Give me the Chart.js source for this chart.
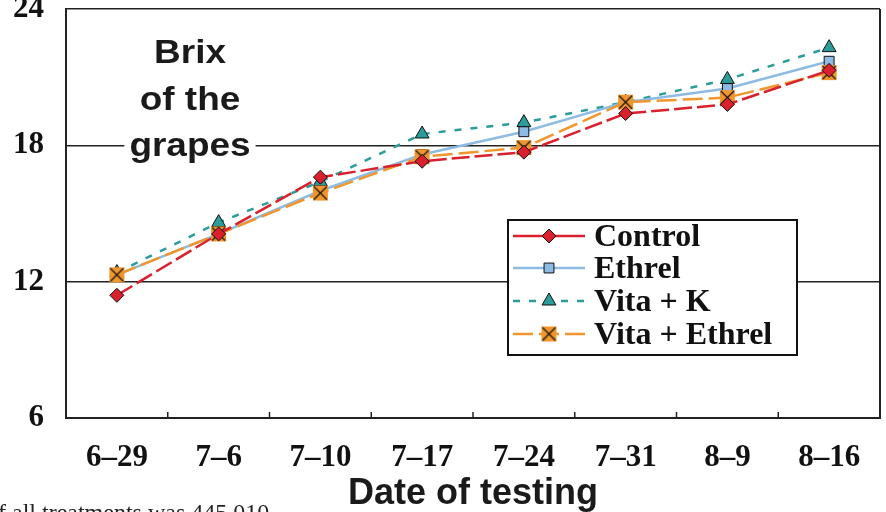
<!DOCTYPE html>
<html><head><meta charset="utf-8">
<script src="https://cdn.jsdelivr.net/npm/chart.js@4.4.1/dist/chart.umd.min.js"></script>
<style>html,body{margin:0;padding:0;background:#fff;overflow:hidden}canvas{display:block}</style>
</head><body>
<canvas id="c" width="886" height="512"></canvas>
<script>
const categories = ['6\u201329','7\u20136','7\u201310','7\u201317','7\u201324','7\u201331','8\u20139','8\u201316'];
const controlValues = [11.4, 14.1, 16.6, 17.3, 17.7, 19.4, 19.8, 21.3];
const ethrelValues = [12.3, 14.1, 16.0, 17.6, 18.6, 19.9, 20.5, 21.7];
const vitaKValues = [12.4, 14.6, 16.4, 18.5, 19.0, 19.9, 20.9, 22.3];
const vitaEthrelValues = [12.3, 14.1, 15.9, 17.5, 17.9, 19.9, 20.1, 21.2];
const yTicks = [6, 12, 18, 24];
const seriesNames = ['Control', 'Ethrel', 'Vita + K', 'Vita + Ethrel'];
const titleLines = ['Brix', 'of the', 'grapes'];
const xTitle = 'Date of testing';
const footText = 'f all treatments was 445,010';

function xMarker(){
  const s = 17, cv = document.createElement('canvas');
  cv.width = s; cv.height = s;
  const g = cv.getContext('2d');
  g.fillStyle = '#f0962c'; g.fillRect(1,1,s-2,s-2);
  g.strokeStyle = '#111'; g.lineWidth = 1.2;
  g.beginPath(); g.moveTo(2,2); g.lineTo(s-2,s-2); g.moveTo(s-2,2); g.lineTo(2,s-2); g.stroke();
  return cv;
}
const xm = xMarker();

const colors = ['#d9202c', '#8ebbe3', '#2c9c9a', '#f0962c'];
const dashes = [[18,5], [], [7,9], [20,6]];
const styles = ['rectRot', 'rect', 'triangle', xm];
const radii = [7, 7, 8, 8];
const valueSets = [controlValues, ethrelValues, vitaKValues, vitaEthrelValues];
const orders = [0, 2, 3, 1];

const datasets = seriesNames.map((n, i) => ({
  label: n,
  data: valueSets[i],
  borderColor: colors[i],
  backgroundColor: colors[i],
  borderWidth: 2.5,
  borderDash: dashes[i],
  pointStyle: styles[i],
  pointRadius: radii[i],
  pointBackgroundColor: colors[i],
  pointBorderColor: '#111',
  pointBorderWidth: 1,
  tension: 0,
  order: orders[i]
}));

const deco = {
  id: 'deco',
  afterDatasetsDraw(chart){
    const ctx = chart.ctx, a = chart.chartArea, xs = chart.scales.x;
    ctx.save();
    ctx.strokeStyle = '#222'; ctx.lineWidth = 2;
    ctx.beginPath(); ctx.moveTo(a.right, a.top); ctx.lineTo(a.right, a.bottom); ctx.stroke();
    ctx.lineWidth = 1.5;
    for (let i = 1; i < categories.length; i++){
      const x = (xs.getPixelForValue(i-1) + xs.getPixelForValue(i)) / 2;
      ctx.beginPath(); ctx.moveTo(x, a.bottom); ctx.lineTo(x, a.bottom - 6); ctx.stroke();
    }
    ctx.font = 'bold 33px "Liberation Sans", Arial, sans-serif';
    ctx.textAlign = 'center'; ctx.textBaseline = 'alphabetic';
    const bases = [63, 110, 156];
    const sx = 1.12;
    titleLines.forEach((t, i) => {
      const w = ctx.measureText(t).width * sx;
      ctx.fillStyle = '#fff';
      ctx.fillRect(190 - w/2 - 5, bases[i] - 26, w + 10, 34);
      ctx.save();
      ctx.translate(190, bases[i]); ctx.scale(sx, 1);
      ctx.fillStyle = '#1a1a1a';
      ctx.fillText(t, 0, 0);
      ctx.restore();
    });
    const lx = 508, ly = 220, lw = 289, lh = 135;
    ctx.fillStyle = '#fff'; ctx.fillRect(lx, ly, lw, lh);
    ctx.strokeStyle = '#111'; ctx.lineWidth = 2; ctx.strokeRect(lx, ly, lw, lh);
    const rowY = [236, 268, 301, 334];
    ctx.font = 'bold 32px "Liberation Serif", "Times New Roman", serif';
    ctx.textAlign = 'left'; ctx.textBaseline = 'middle';
    chart.data.datasets.forEach((ds, i) => {
      const y = rowY[i];
      ctx.strokeStyle = ds.borderColor; ctx.lineWidth = 2.5;
      ctx.setLineDash(i === 0 ? [] : ds.borderDash);
      ctx.beginPath(); ctx.moveTo(lx + 5, y); ctx.lineTo(lx + 77, y); ctx.stroke();
      ctx.setLineDash([]);
      const opts = {pointStyle: ds.pointStyle, radius: ds.pointRadius, borderWidth: 1, rotation: 0};
      ctx.fillStyle = ds.pointBackgroundColor; ctx.strokeStyle = '#111'; ctx.lineWidth = 1;
      Chart.helpers.drawPoint(ctx, opts, lx + 41, y);
      ctx.fillStyle = '#111';
      ctx.fillText(ds.label, 594, y + 2);
    });
    ctx.font = '24px "Liberation Serif", "Times New Roman", serif';
    ctx.textBaseline = 'alphabetic'; ctx.fillStyle = '#222';
    ctx.fillText(footText, -2, 520);
    ctx.restore();
  }
};

new Chart(document.getElementById('c'), {
  type: 'line',
  data: { labels: categories, datasets },
  options: {
    responsive: false,
    animation: false,
    devicePixelRatio: 1,
    layout: { autoPadding: false, padding: { top: 9, right: 6, left: 0, bottom: 0 } },
    plugins: { legend: { display: false }, tooltip: { enabled: false } },
    scales: {
      x: {
        offset: true,
        afterFit(s){ s.height = 94; s.paddingLeft = 0; s.paddingRight = 0; },
        grid: { display: true, color: 'rgba(0,0,0,0)', drawTicks: false },
        border: { display: true, color: '#222', width: 2 },
        ticks: { padding: 21, color: '#111', font: { family: '"Liberation Serif", "Times New Roman", serif', size: 31, weight: 'bold' } },
        title: { display: true, text: xTitle, color: '#1a1a1a', padding: { top: 0, bottom: 0 },
          font: { family: '"Liberation Sans", Arial, sans-serif', size: 36, weight: 'bold', lineHeight: 1.0 } }
      },
      y: {
        min: 6, max: 24,
        afterFit(s){ s.width = 66; s.paddingTop = 0; s.paddingBottom = 0; },
        afterBuildTicks(s){ s.ticks = yTicks.map(v => ({ value: v })); },
        grid: { drawTicks: false, lineWidth: 1.5, color: c => c.tick && c.tick.value === 6 ? 'rgba(0,0,0,0)' : '#222' },
        border: { display: true, color: '#222', width: 2 },
        ticks: { padding: 22, color: '#111', font: { family: '"Liberation Serif", "Times New Roman", serif', size: 31, weight: 'bold' } }
      }
    }
  },
  plugins: [deco]
});
</script>
</body></html>
